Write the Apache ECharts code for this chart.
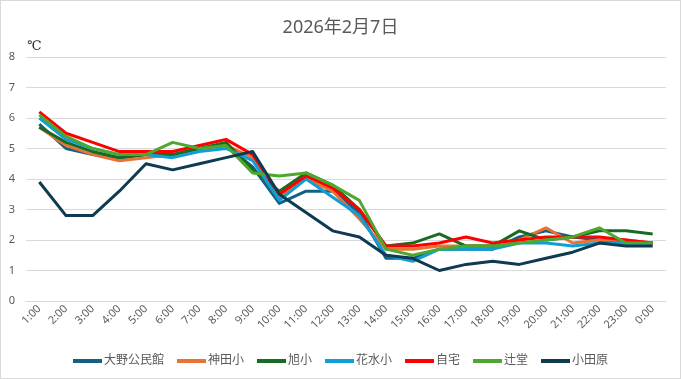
<!DOCTYPE html>
<html><head><meta charset="utf-8">
<script src="https://cdn.jsdelivr.net/npm/echarts@6/dist/echarts.min.js"></script>
<style>html,body{margin:0;padding:0;background:#fff;}#c{width:679px;height:377px;border:1px solid #d9d9d9;}</style>
</head><body><div id="c"></div>
<script>
const hours = ['1:00','2:00','3:00','4:00','5:00','6:00','7:00','8:00','9:00','10:00','11:00','12:00','13:00','14:00','15:00','16:00','17:00','18:00','19:00','20:00','21:00','22:00','23:00','0:00'];
const ono    = [5.8,5.0,4.8,4.7,4.8,4.8,5.0,5.1,4.4,3.2,3.6,3.6,2.9,1.4,1.4,1.7,1.7,1.7,2.1,2.3,2.1,2.0,1.9,1.9];
const kanda  = [5.7,5.1,4.8,4.6,4.7,4.8,5.0,5.1,4.7,3.4,4.0,3.6,2.7,1.7,1.7,1.8,1.8,1.8,2.0,2.4,1.9,2.0,2.0,1.9];
const asahi  = [5.7,5.2,4.9,4.7,4.8,4.8,5.0,5.2,4.3,3.6,4.2,3.8,3.0,1.8,1.9,2.2,1.8,1.8,2.3,2.0,2.1,2.3,2.3,2.2];
const hanamizu=[6.0,5.3,5.0,4.8,4.8,4.7,4.9,5.0,4.6,3.3,4.0,3.4,2.8,1.5,1.3,1.7,1.7,1.7,1.9,1.9,1.8,1.9,1.9,1.9];
const jitaku = [6.2,5.5,5.2,4.9,4.9,4.9,5.1,5.3,4.8,3.5,4.1,3.7,3.0,1.8,1.8,1.9,2.1,1.9,2.0,2.1,2.1,2.1,2.0,1.9];
const tsujido= [6.1,5.4,5.0,4.8,4.8,5.2,5.0,5.1,4.2,4.1,4.2,3.8,3.3,1.7,1.5,1.7,1.8,1.8,1.9,2.0,2.1,2.4,1.9,1.9];
const odawara= [3.9,2.8,2.8,3.6,4.5,4.3,4.5,4.7,4.9,3.5,2.9,2.3,2.1,1.5,1.4,1.0,1.2,1.3,1.2,1.4,1.6,1.9,1.8,1.8];
const names = ['大野公民館','神田小','旭小','花水小','自宅','辻堂','小田原'];
const values = [ono,kanda,asahi,hanamizu,jitaku,tsujido,odawara];
const colors = ['#156082','#E97132','#196B24','#0F9ED5','#FF0000','#4EA72E','#0E3A52'];
const yTicks = [0,8,1];

const ff = "'Noto Sans','Noto Sans CJK JP',sans-serif";
const chart = echarts.init(document.getElementById('c'));
chart.setOption({
  animation:false,
  textStyle:{fontFamily:ff},
  title:{text:'2026年2月7日',left:'center',top:13,textStyle:{fontSize:18,fontWeight:'normal',color:'#595959',fontFamily:ff}},
  graphic:[{type:'text',left:26,top:39,style:{text:'℃',fontSize:13,fill:'#262626',fontFamily:"'DejaVu Serif',serif"}}],
  grid:{left:25,right:14,top:56,bottom:77},
  legend:{bottom:6,left:'center',itemWidth:29,itemHeight:4,itemGap:13,icon:'rect',
    textStyle:{fontSize:12,color:'#595959',fontFamily:ff,padding:[0,0,0,-3]},data:names},
  xAxis:{type:'category',data:hours,boundaryGap:true,
    axisLine:{lineStyle:{color:'#d9d9d9'}},axisTick:{show:false},
    axisLabel:{rotate:45,fontSize:11,color:'#595959',margin:6,interval:0}},
  yAxis:{type:'value',min:yTicks[0],max:yTicks[1],interval:yTicks[2],
    axisLine:{show:false},axisTick:{show:false},
    splitLine:{lineStyle:{color:'#d9d9d9'}},
    axisLabel:{fontSize:11,color:'#595959',margin:11}},
  series:names.map((n,i)=>({name:n,type:'line',data:values[i],symbol:'none',
    lineStyle:{width:3,color:colors[i],join:'round'},itemStyle:{color:colors[i]}}))
});
</script></body></html>
